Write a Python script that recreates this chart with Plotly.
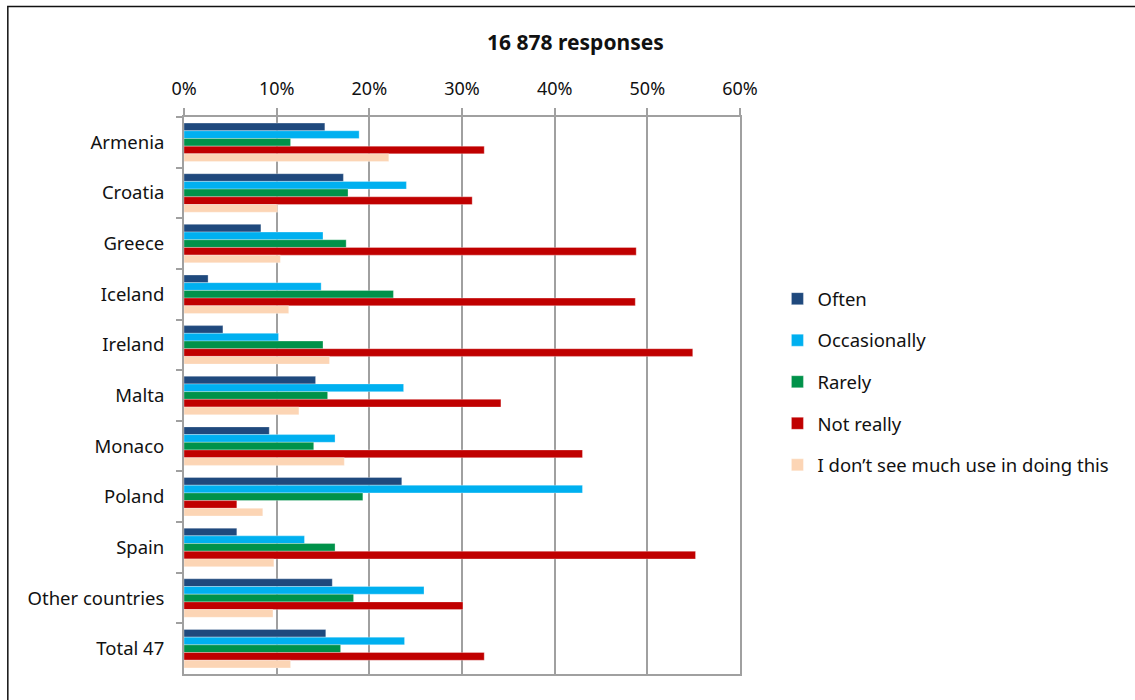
import plotly.graph_objects as go

countries = ["Armenia", "Croatia", "Greece", "Iceland", "Ireland", "Malta",
             "Monaco", "Poland", "Spain", "Other countries", "Total 47"]

often = [15.2, 17.2, 8.3, 2.6, 4.2, 14.2, 9.2, 23.5, 5.7, 16.0, 15.3]
occasionally = [18.9, 24.0, 15.0, 14.8, 10.2, 23.7, 16.3, 43.0, 13.0, 25.9, 23.8]
rarely = [11.5, 17.7, 17.5, 22.6, 15.0, 15.5, 14.0, 19.3, 16.3, 18.3, 16.9]
not_really = [32.4, 31.1, 48.8, 48.7, 54.9, 34.2, 43.0, 5.7, 55.2, 30.1, 32.4]
no_use = [22.1, 10.1, 10.4, 11.3, 15.7, 12.4, 17.3, 8.5, 9.7, 9.6, 11.5]

series = [
    ("Often", often, "#1F497D"),
    ("Occasionally", occasionally, "#00B0F0"),
    ("Rarely", rarely, "#00924A"),
    ("Not really", not_really, "#C00000"),
    ("I don\u2019t see much use in doing this", no_use, "#FCD5B5"),
]

tick_vals = [0, 10, 20, 30, 40, 50, 60]
tick_text = [f"{v}%" for v in tick_vals]

FONT = "Noto Sans"
GRID = "#A0A0A0"

fig = go.Figure()
for i, (name, vals, color) in enumerate(series):
    fig.add_trace(go.Bar(
        y=countries, x=vals, name=name, orientation="h",
        marker=dict(color=color, line=dict(color="rgba(255,255,255,0.5)", width=0.6)),
        legendgroup=f"g{i}",
    ))

W, H = 1135, 700
L, R, T, B = 183.5, 740.5, 116.7, 674.3

fig.update_layout(
    width=W, height=H,
    margin=dict(l=L, r=W - R, t=T, b=H - B, pad=0),
    paper_bgcolor="white", plot_bgcolor="white",
    barmode="group", bargap=0.24, bargroupgap=0,
    font=dict(family=FONT, size=18, color="#111111"),
    title=dict(text="<b>16 878 responses</b>", x=0.507, xanchor="center",
               y=1 - 43 / H, yanchor="middle",
               font=dict(family=FONT, size=21, color="#111111")),
    xaxis=dict(
        side="top", range=[0, 60], tickvals=tick_vals, ticktext=tick_text,
        showgrid=True, gridcolor=GRID, gridwidth=2,
        showline=True, linecolor=GRID, linewidth=2, mirror=True,
        ticks="outside", ticklen=7, tickcolor=GRID, tickwidth=2,
        ticklabelstandoff=6, zeroline=False,
        tickfont=dict(family=FONT, size=18, color="#111111"),
    ),
    yaxis=dict(
        autorange="reversed", showgrid=False,
        showline=True, linecolor=GRID, linewidth=2, mirror=True,
        ticks="outside", ticklen=6, tickcolor=GRID, tickwidth=2,
        tickson="boundaries", ticklabelstandoff=14,
        tickfont=dict(family=FONT, size=18.5, color="#111111"),
    ),
    legend=dict(
        x=(778 - L) / (R - L), xanchor="left",
        y=(B - 280) / (B - T), yanchor="top",
        traceorder="grouped", tracegroupgap=14.5,
        font=dict(family=FONT, size=18.5, color="#111111"),
        bgcolor="rgba(0,0,0,0)",
    ),
    showlegend=True,
)

# outer frame of the chart
fig.add_shape(type="rect", xref="paper", yref="paper",
              x0=(7 - L) / (R - L), x1=(1160 - L) / (R - L),
              y0=(B - 720) / (B - T), y1=1 + (T - 6) / (B - T),
              line=dict(color="#111111", width=1.5), layer="below")

fig.write_html("out.html")
